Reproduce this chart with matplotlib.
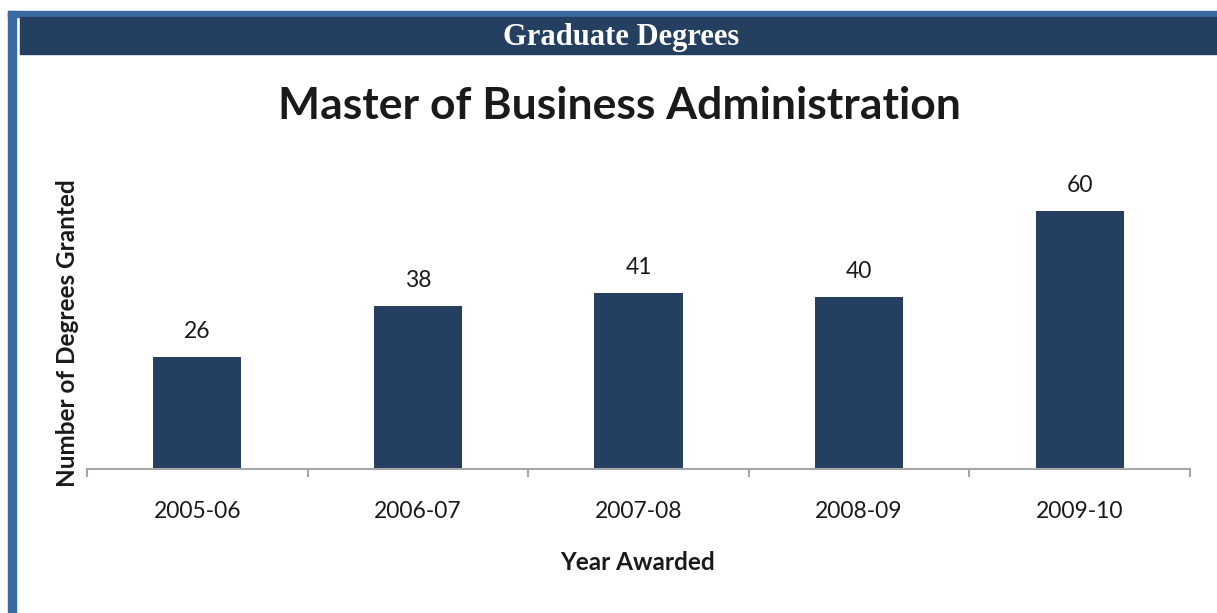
import matplotlib.pyplot as plt
from matplotlib.patches import Rectangle

years = ['2005-06', '2006-07', '2007-08', '2008-09', '2009-10']
degrees = [26, 38, 41, 40, 60]

W, H = 1217, 613
navy = '#243f60'
border_blue = '#3b6aa2'
axis_gray = '#a6a6a6'

fig = plt.figure(figsize=(W / 100, H / 100), dpi=100)


def fx(px):
    return px / W


def fy(py):
    return 1 - py / H


# frame: blue border on top and left, navy banner
fig.patches.append(Rectangle((fx(8), fy(613)), fx(8), fy(11) - fy(613),
                             transform=fig.transFigure, color=border_blue, zorder=0))
fig.patches.append(Rectangle((fx(8), fy(17)), 1 - fx(8), fy(11) - fy(17),
                             transform=fig.transFigure, color=border_blue, zorder=0))
fig.patches.append(Rectangle((fx(20), fy(54)), 1 - fx(20), fy(17) - fy(54),
                             transform=fig.transFigure, color=navy, zorder=0))
fig.text(fx(621), fy(37), 'Graduate Degrees', color='white', ha='center', va='center',
         fontsize=22, fontweight='bold', family='Liberation Serif')

fig.text(fx(619), fy(106), 'Master of Business Administration', ha='center', va='center',
         fontsize=32, fontweight='bold', family='Lato', color='#1a1a1a')

ax = fig.add_axes([fx(87), fy(469), fx(1190) - fx(87), fy(168) - fy(469)])
x = list(range(len(years)))
bars = ax.bar(x, degrees, width=0.4, color=navy)
ax.set_xlim(-0.5, len(years) - 0.5)
ax.set_ylim(0, 70)

for s in ['left', 'right', 'top']:
    ax.spines[s].set_visible(False)
ax.spines['bottom'].set_color(axis_gray)
ax.spines['bottom'].set_linewidth(1.5)

ax.set_yticks([])
ax.set_xticks(x)
ax.set_xticklabels(years, family='Lato', fontsize=16.5, color='#1a1a1a')
ax.tick_params(axis='x', which='major', length=0, pad=23)
ax.set_xticks([i - 0.5 for i in range(len(years) + 1)], minor=True)
ax.tick_params(axis='x', which='minor', length=6, width=1.5, color=axis_gray)

for xi, v in zip(x, degrees):
    ax.annotate(str(v), (xi, v), xytext=(0, 15), textcoords='offset pixels',
                ha='center', va='bottom', family='Lato', fontsize=16.5, color='#1a1a1a')

fig.text(fx(638), fy(563), 'Year Awarded', ha='center', va='center',
         fontsize=17.5, fontweight='bold', family='Lato', color='#1a1a1a')
fig.text(fx(68), fy(333), 'Number of Degrees Granted', ha='center', va='center',
         rotation=90, fontsize=17.5, fontweight='bold', family='Lato', color='#1a1a1a')

fig.savefig('out.png', dpi=100)
